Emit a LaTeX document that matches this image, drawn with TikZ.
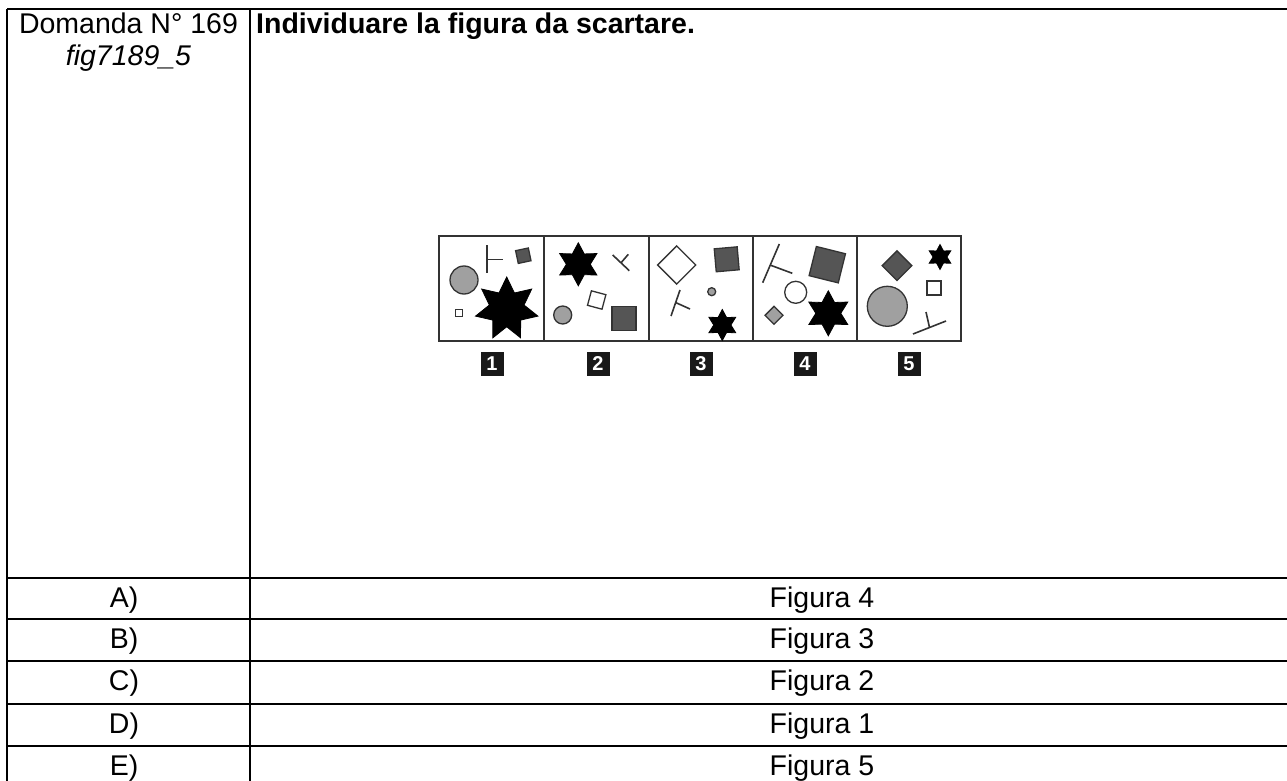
\documentclass[tikz,border=0pt]{standalone}
\usepackage{fontspec}
\setmainfont{Liberation Sans}
\usetikzlibrary{shapes.geometric}
\definecolor{dgray}{HTML}{555555}
\definecolor{lgray}{HTML}{A0A0A0}
\definecolor{edgec}{HTML}{333333}
\tikzset{
 tabline/.style={line width=2pt, black},
 txt/.style={font=\fontsize{28.5}{34}\selectfont, inner sep=0, anchor=base},
 frame/.style={line width=1.4pt, edgec},
 gcirc/.style={circle, draw=edgec, fill=lgray, line width=1.3pt, inner sep=0, outer sep=0},
 wcirc/.style={circle, draw=edgec, fill=white, line width=1.3pt, inner sep=0, outer sep=0},
 dsq/.style={rectangle, draw=edgec, fill=dgray, line width=1.3pt, inner sep=0, outer sep=0},
 gsq/.style={rectangle, draw=edgec, fill=lgray, line width=1.3pt, inner sep=0, outer sep=0},
 wsq/.style={rectangle, draw=edgec, fill=white, line width=1.3pt, inner sep=0, outer sep=0},
 bstar/.style={star, fill=black, draw=black, line width=0.8pt, inner sep=0, outer sep=0, star point ratio=1.8},
 tline/.style={line width=1.6pt, edgec},
 lbl/.style={fill=black!90, text=white, font=\bfseries\fontsize{20}{20}\selectfont, minimum width=23pt, minimum height=24pt, inner sep=0},
}
\begin{document}
\begin{tikzpicture}[x=1pt,y=-1pt]
\useasboundingbox (0,0) rectangle (1287,781);
\fill[white] (0,0) rectangle (1287,781);
% table
\draw[tabline] (7,9) -- (1287,9);
\draw[tabline] (7,9) -- (7,781);
\draw[tabline] (250,9) -- (250,781);
\foreach \yy in {578,619,661,704,746} \draw[tabline] (7,\yy) -- (1287,\yy);
% header texts
\node[txt] (dom) at (128.5,34) {Domanda N° 169};
\node[txt] (fig) at (128.5,66) {\itshape fig7189\_5};
\node[txt, anchor=base west] (q) at (256,34) {\bfseries Individuare la figura da scartare.};
% answers
\node[txt] (la) at (124,607) {A)};
\node[txt] (lb) at (124,648) {B)};
\node[txt] (lc) at (124,690) {C)};
\node[txt] (ld) at (124,733) {D)};
\node[txt] (le) at (124,775) {E)};
\node[txt] (aa) at (822,607) {Figura 4};
\node[txt] (ab) at (822,648) {Figura 3};
\node[txt] (ac) at (822,690) {Figura 2};
\node[txt] (ad) at (822,733) {Figura 1};
\node[txt] (ae) at (822,775) {Figura 5};
% figure frame
\draw[frame] (439,236) rectangle (961,341);
\foreach \xx in {544,649,753,857} \draw[frame] (\xx,236) -- (\xx,341);
% panel 1
\begin{scope}[shift={(439,236)}]
 \node[gcirc, minimum size=28pt] (p1c) at (25,44) {};
 \draw[tline] (47.7,9) -- (47.7,36.7);
 \draw[tline] (47.7,23.3) -- (63.7,23.3);
 \node[dsq, minimum size=13pt, rotate=12] (p1s) at (84.3,19.7) {};
 \node[wsq, minimum size=7pt] (p1w) at (20,76.7) {};
 \node[bstar, star points=7, minimum size=64pt] (p1star) at (67.7,73) {};
\end{scope}
% panel 2
\begin{scope}[shift={(544,236)}]
 \node[bstar, star points=6, minimum size=43pt] (p2star) at (34.3,28.3) {};
 \draw[tline] (68.7,19) -- (85.3,34.7);
 \draw[tline] (77,26.8) -- (84.3,18.3);
 \node[wsq, minimum size=15pt, rotate=-15] (p2w) at (52.7,64) {};
 \node[gcirc, minimum size=18pt] (p2c) at (18.7,79) {};
 \node[dsq, minimum size=24pt] (p2s) at (80,82.3) {};
\end{scope}
% panel 3
\begin{scope}[shift={(649,236)}]
 \node[wsq, minimum size=27pt, rotate=45] (p3d) at (27.7,29) {};
 \node[dsq, minimum size=23pt, rotate=5] (p3s) at (77.7,23.3) {};
 \draw[tline] (31,54) -- (22,80);
 \draw[tline] (27,66.7) -- (41,73);
 \node[gcirc, minimum size=8pt] (p3c) at (62.7,55.7) {};
 \node[bstar, star points=6, minimum size=31pt] (p3star) at (73.3,89) {};
\end{scope}
% panel 4
\begin{scope}[shift={(753,236)}]
 \draw[tline] (26.3,8) -- (9.7,46.7);
 \draw[tline] (17,29) -- (39.3,37.3);
 \node[dsq, minimum size=30pt, rotate=-14] (p4s) at (74.3,28.7) {};
 \node[wcirc, minimum size=22pt] (p4c) at (42.7,56.3) {};
 \node[gsq, minimum size=12.7pt, rotate=45] (p4d) at (21,79.3) {};
 \node[bstar, star points=6, minimum size=45pt] (p4star) at (75.3,77.3) {};
\end{scope}
% panel 5
\begin{scope}[shift={(857,236)}]
 \node[dsq, minimum size=21pt, rotate=45] (p5d) at (40,29.7) {};
 \node[bstar, star points=6, minimum size=25pt] (p5star) at (83,21) {};
 \node[wsq, minimum size=14pt] (p5w) at (77,52) {};
 \node[gcirc, minimum size=40pt] (p5c) at (30.3,70.3) {};
 \draw[tline] (56,98) -- (89,85);
 \draw[tline] (72.5,91.5) -- (69,76);
\end{scope}
% labels
\node[lbl] (l1) at (492,364) {1};
\node[lbl] (l2) at (598,364) {2};
\node[lbl] (l3) at (701,364) {3};
\node[lbl] (l4) at (805,364) {4};
\node[lbl] (l5) at (909,364) {5};
\end{tikzpicture}
\end{document}
